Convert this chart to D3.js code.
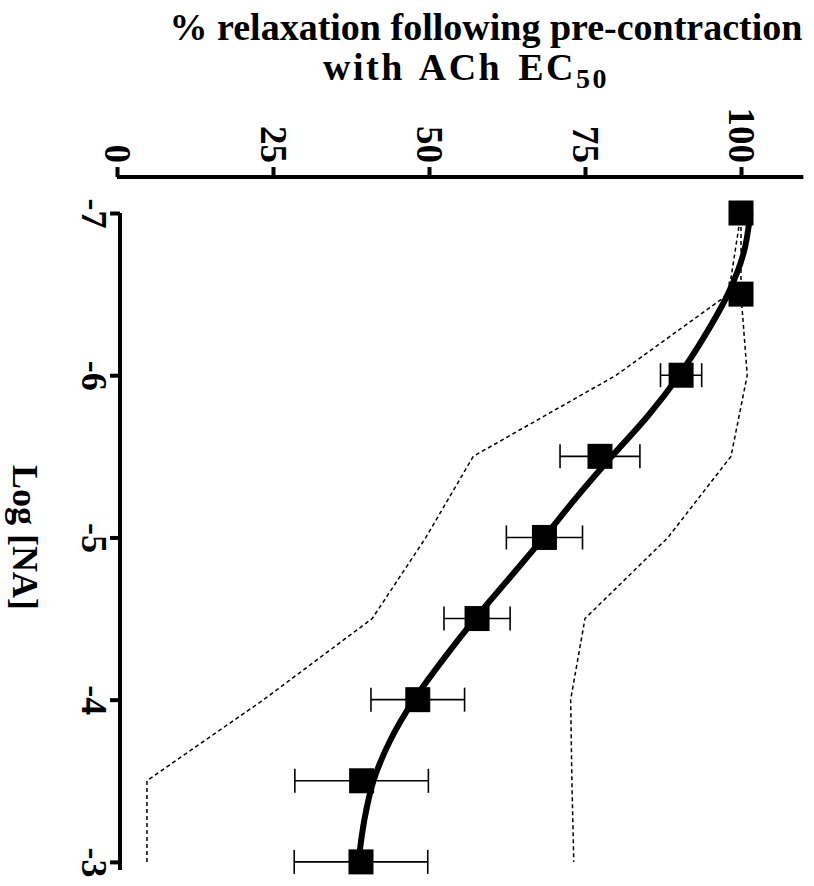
<!DOCTYPE html>
<html>
<head>
<meta charset="utf-8">
<script src="https://d3js.org/d3.v7.min.js"></script>
<style>
  body { margin: 0; background: #fff; }
  text { font-family: "Liberation Serif", "Times New Roman", serif; font-weight: bold; fill: #000; }
</style>
</head>
<body>
<div id="chart"></div>
<script>
var svgWidth = 814;
var svgHeight = 886;

// data (log [NA] vs % relaxation)
var logConc = [-7, -6.5, -6, -5.5, -5, -4.5, -4, -3.5, -3];
var meanRelax = [100, 100, 90.4, 77.4, 68.5, 57.7, 48.2, 39.2, 39.1];
var semRelax = [0, 0, 3.3, 6.4, 6.1, 5.3, 7.5, 10.7, 10.7];

// dotted bounds
var upperBand = [100, 100, 101, 98.4, 88.3, 75, 72.7, 72.9, 73.2];
var lowerBand = [100, 98, 80, 57.1, 49.5, 40.9, 23.5, 4.8, 4.8];

// fitted curve
var fitLog = [-7, -6.75, -6.5, -6.25, -6, -5.75, -5.5, -5.25, -5, -4.75, -4.5, -4.25, -4, -3.75, -3.5, -3.25, -3];
var fitRelax = [101.5, 100.4, 97.9, 94.3, 90.1, 85.1, 79.3, 73.7, 68.4, 62.9, 57.4, 52.3, 47.6, 43.8, 41.1, 39.6, 38.7];

var valueTicks = [0, 25, 50, 75, 100];
var logTicks = [-7, -6, -5, -4, -3];

var svg = d3.select("#chart")
  .append("svg")
  .attr("width", svgWidth)
  .attr("height", svgHeight);

// the plot is turned a quarter: values run left->right, log [NA] runs top->bottom
var xScale = d3.scaleLinear()
  .domain([0, 110])
  .range([117, 803.4]);

var yScale = d3.scaleLinear()
  .domain([-7, -2.95])
  .range([213, 870]);

var axisY = 177;
var axisX = 120;

// Value axis (top)
var topAxis = d3.axisTop(xScale)
  .tickValues(valueTicks)
  .tickSize(10)
  .tickFormat(d => String(d));

var gTop = svg.append("g")
  .attr("transform", `translate(0, ${axisY})`)
  .call(topAxis);

gTop.select(".domain")
  .attr("d", `M${xScale(0)},0H${xScale(110)}`)
  .attr("stroke", "#000")
  .attr("stroke-width", 4);
gTop.selectAll(".tick line").attr("stroke", "#000").attr("stroke-width", 4);
gTop.selectAll(".tick text")
  .attr("font-size", 37)
  .attr("font-family", null)
  .attr("text-anchor", "end")
  .attr("x", 0)
  .attr("y", 0)
  .attr("dy", "0.35em")
  .attr("transform", "translate(0,-14) rotate(90)");

// Log axis (left)
var leftAxis = d3.axisLeft(yScale)
  .tickValues(logTicks)
  .tickSize(10)
  .tickFormat(d => String(d));

var gLeft = svg.append("g")
  .attr("transform", `translate(${axisX}, 0)`)
  .call(leftAxis);

gLeft.select(".domain")
  .attr("d", `M0,${yScale(-7)}V${yScale(-2.95)}`)
  .attr("stroke", "#000")
  .attr("stroke-width", 4);
gLeft.selectAll(".tick line").attr("stroke", "#000").attr("stroke-width", 4);
gLeft.selectAll(".tick text")
  .attr("font-size", 36)
  .attr("font-family", null)
  .attr("text-anchor", "middle")
  .attr("x", 0)
  .attr("y", 0)
  .attr("dy", "0.35em")
  .attr("transform", "translate(-25,0) rotate(90)");

// axis titles
svg.append("text")
  .attr("x", 486)
  .attr("y", 40)
  .attr("text-anchor", "middle")
  .attr("font-size", 38)
  .text("% relaxation following pre-contraction");

var title2 = svg.append("text")
  .attr("x", 466)
  .attr("y", 80)
  .attr("text-anchor", "middle")
  .attr("font-size", 38)
  .attr("word-spacing", 4)
  .attr("letter-spacing", 2.5);
title2.append("tspan").text("with ACh EC");
title2.append("tspan").attr("font-size", 28).attr("dy", 8).text("50");

svg.append("text")
  .attr("transform", `translate(26, ${yScale(-5)}) rotate(90)`)
  .attr("text-anchor", "middle")
  .attr("dy", "0.35em")
  .attr("font-size", 36)
  .text("Log [NA]");

// dotted bounds
var bandLine = d3.line()
  .x(d => xScale(d[1]))
  .y(d => yScale(d[0]));

[upperBand, lowerBand].forEach(function(band) {
  svg.append("path")
    .datum(logConc.map((c, i) => [c, band[i]]))
    .attr("d", bandLine)
    .attr("fill", "none")
    .attr("stroke", "#000")
    .attr("stroke-width", 1.5)
    .attr("stroke-dasharray", "4,3");
});

// error bars
var pts = logConc.map(function(c, i) {
  return { log: c, mean: meanRelax[i], sem: semRelax[i] };
});

var bars = svg.append("g")
  .selectAll("g")
  .data(pts.filter(d => d.sem > 0))
  .enter()
  .append("g")
  .attr("stroke", "#000")
  .attr("stroke-width", 1.6);

bars.append("line")
  .attr("x1", d => xScale(d.mean - d.sem))
  .attr("x2", d => xScale(d.mean + d.sem))
  .attr("y1", d => yScale(d.log))
  .attr("y2", d => yScale(d.log));

bars.append("line")
  .attr("x1", d => xScale(d.mean - d.sem))
  .attr("x2", d => xScale(d.mean - d.sem))
  .attr("y1", d => yScale(d.log) - 12)
  .attr("y2", d => yScale(d.log) + 12);

bars.append("line")
  .attr("x1", d => xScale(d.mean + d.sem))
  .attr("x2", d => xScale(d.mean + d.sem))
  .attr("y1", d => yScale(d.log) - 12)
  .attr("y2", d => yScale(d.log) + 12);

// fitted curve
var fitLine = d3.line()
  .x(d => xScale(d[1]))
  .y(d => yScale(d[0]))
  .curve(d3.curveMonotoneY);

svg.append("path")
  .datum(fitLog.map((c, i) => [c, fitRelax[i]]))
  .attr("d", fitLine)
  .attr("fill", "none")
  .attr("stroke", "#000")
  .attr("stroke-width", 6);

// square markers
var sq = 25;
svg.append("g")
  .selectAll("rect")
  .data(pts)
  .enter()
  .append("rect")
  .attr("x", d => xScale(d.mean) - sq / 2)
  .attr("y", d => yScale(d.log) - sq / 2)
  .attr("width", sq)
  .attr("height", sq)
  .attr("fill", "#000");
</script>
</body>
</html>
